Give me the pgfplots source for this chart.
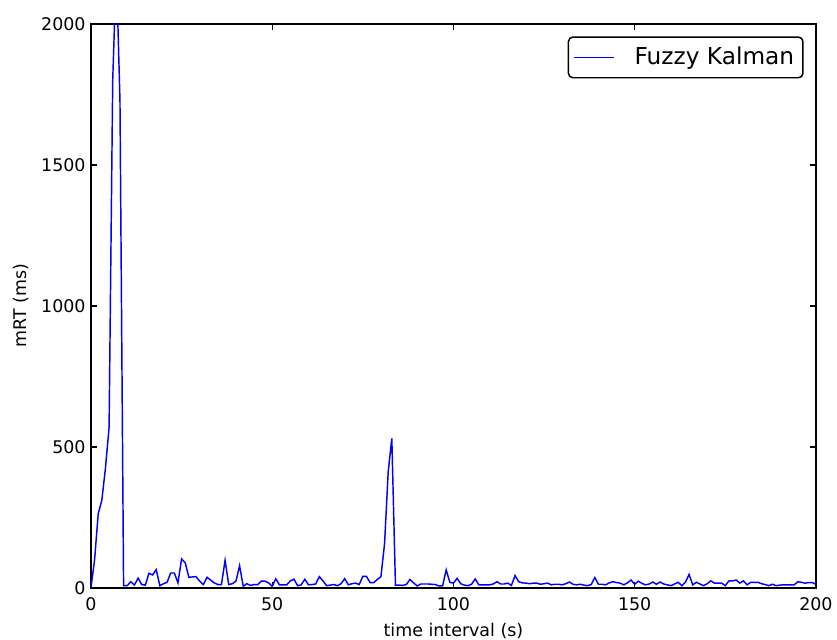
\documentclass[border=0pt]{standalone}
\usepackage{fontspec}
\setmainfont{DejaVu Sans}
\usepackage{pgfplots}
\pgfplotsset{compat=1.18}

\pgfplotstableread{
t mrt
0 0
1 100
2 263
3 311
4 425
5 570
6 1800
7 2200
8 1730
9 8
10 8
11 22
12 10
13 35
14 12
15 10
16 52
17 46
18 65
19 8
20 15
21 20
22 53
23 53
24 18
25 103
26 89
27 38
28 39
29 40
30 24
31 12
32 38
33 28
34 18
35 12
36 12
37 98
38 12
39 15
40 24
41 79
42 6
43 15
44 9
45 12
46 12
47 24
48 24
49 18
50 6
51 32
52 11
53 11
54 11
55 25
56 31
57 8
58 11
59 31
60 11
61 12
62 14
63 40
64 25
65 8
66 10
67 12
68 8
69 15
70 33
71 11
72 15
73 17
74 12
75 41
76 41
77 19
78 19
79 30
80 40
81 158
82 412
83 530
84 10
85 10
86 9
87 12
88 30
89 18
90 7
91 14
92 14
93 14
94 13
95 12
96 7
97 7
98 64
99 20
100 17
101 34
102 15
103 10
104 8
105 13
106 32
107 11
108 11
109 11
110 11
111 14
112 22
113 14
114 14
115 17
116 9
117 44
118 22
119 18
120 17
121 15
122 17
123 17
124 13
125 15
126 17
127 11
128 13
129 13
130 11
131 15
132 21
133 13
134 11
135 13
136 10
137 8
138 12
139 37
140 13
141 13
142 11
143 18
144 22
145 19
146 17
147 11
148 18
149 28
150 13
151 24
152 16
153 11
154 14
155 21
156 13
157 21
158 14
159 11
160 8
161 14
162 20
163 8
164 20
165 48
166 11
167 20
168 14
169 8
170 15
171 25
172 17
173 17
174 17
175 8
176 25
177 25
178 28
179 17
180 25
181 11
182 20
183 20
184 20
185 15
186 12
187 8
188 13
189 8
190 10
191 11
192 11
193 11
194 11
195 22
196 20
197 17
198 19
199 19
200 13
}\mrtdata

\begin{document}
\fontsize{12bp}{14bp}\selectfont%
\begin{tikzpicture}
\path[use as bounding box] (-62.6bp,-35.8bp) rectangle (513.4bp,404.6bp);
\begin{axis}[
  at={(0bp,0bp)}, anchor=south west,
  scale only axis,
  width=498.9bp, height=388.1bp,
  xmin=0, xmax=200, ymin=0, ymax=2000,
  xtick={0,50,...,200},
  ytick={0,500,...,2000},
  tick align=inside,
  major tick length=4bp,
  minor tick num=0,
  axis line style={line width=1bp},
  every tick/.style={black, line width=0.8bp},
  xticklabel style={inner sep=2bp, yshift=-4.5bp},
  yticklabel style={inner sep=2bp, xshift=-1.5bp},
  /pgf/number format/assume math mode=true,
  /pgf/number format/set thousands separator={},
  xlabel={time interval (s)},
  ylabel={mRT (ms)},
  xlabel style={yshift=-2bp},
  ylabel style={yshift=2.5bp},
  legend style={at={(0.983,0.978)}, anchor=north east,
    draw=black, line width=1bp, rounded corners=3bp,
    inner xsep=3bp, inner ysep=4bp,
    font=\fontsize{16bp}{18bp}\selectfont},
  legend cell align=left,
  legend image code/.code={\draw[#1] (2bp,0bp) -- (29.5bp,0bp);},
  legend style={nodes={inner sep=3bp}, row sep=0bp},
]
\addplot[color=blue, line width=1bp, mark=none] table[x=t, y=mrt] {\mrtdata};
\addlegendentry{\hspace{11bp}Fuzzy Kalman}
\end{axis}
\end{tikzpicture}
\end{document}
